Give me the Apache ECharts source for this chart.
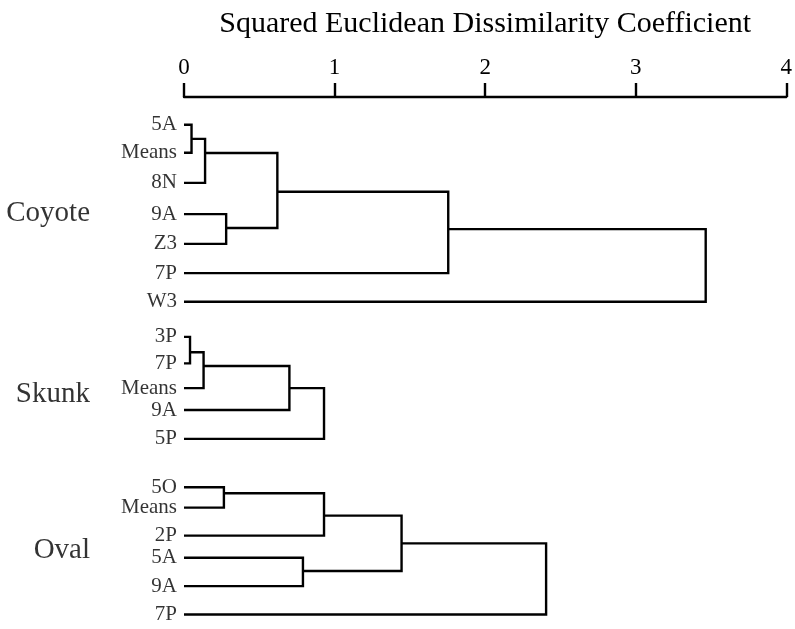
<!DOCTYPE html>
<html><head><meta charset="utf-8">
<script src="https://cdn.jsdelivr.net/npm/echarts@6/dist/echarts.min.js"></script>
<style>html,body{margin:0;padding:0;background:#fff}#c{width:795px;height:629px}</style>
</head><body><div id="c"></div>
<script>
// ---- data ----
const axisTitle = 'Squared Euclidean Dissimilarity Coefficient';
const axisTicks = [0, 1, 2, 3, 4];

const groupNames = ['Coyote', 'Skunk', 'Oval'];
const groupRows = [3.93, 10.07, 15.36];

// leaves (top to bottom) and their row positions
const coyoteLeaves = ['5A', 'Means', '8N', '9A', 'Z3', '7P', 'W3'];
const coyoteRows = [0.94, 1.89, 2.91, 3.97, 4.98, 5.97, 6.94];
// merges: [childA, childB, dissimilarity, connector row]; ids >= leaf count refer to earlier merges
const coyoteMerges = [[0, 1, 0.05, 1.42], [7, 2, 0.14, 1.90], [3, 4, 0.28, 4.44], [8, 9, 0.62, 3.21], [10, 5, 1.755, 4.48], [11, 6, 3.465, 5.71]];

const skunkLeaves = ['3P', '7P', 'Means', '9A', '5P'];
const skunkRows = [8.13, 9.03, 9.87, 10.61, 11.59];
const skunkMerges = [[0, 1, 0.04, 8.65], [5, 2, 0.13, 9.12], [6, 3, 0.70, 9.87], [7, 4, 0.93, 10.73]];

const ovalLeaves = ['5O', 'Means', '2P', '5A', '9A', '7P'];
const ovalRows = [13.23, 13.92, 14.87, 15.62, 16.58, 17.54];
const ovalMerges = [[0, 1, 0.265, 13.43], [6, 2, 0.93, 14.19], [3, 4, 0.79, 16.07], [7, 8, 1.445, 15.13], [9, 5, 2.405, 16.34]];

const groups = [
  { leaves: coyoteLeaves, rows: coyoteRows, merges: coyoteMerges },
  { leaves: skunkLeaves, rows: skunkRows, merges: skunkMerges },
  { leaves: ovalLeaves, rows: ovalRows, merges: ovalMerges }
];

// ---- build links ----
const links = [];
const leafLabels = [];
groups.forEach(g => {
  const n = g.leaves.length;
  const pos = id => id < n ? [0, g.rows[id]] : [g.merges[id - n][2], g.merges[id - n][3]];
  g.leaves.forEach((name, i) => leafLabels.push({ name: name, value: [0, g.rows[i]] }));
  g.merges.forEach(m => {
    const a = pos(m[0]), b = pos(m[1]), h = m[2];
    links.push({ coords: [[a[0], a[1]], [h, a[1]], [h, b[1]], [b[0], b[1]]] });
  });
});
const groupLabels = groupNames.map((name, i) => ({ name: name, value: [0, groupRows[i]] }));

const FONT = 'Liberation Serif';
const INK = '#000';
const chart = echarts.init(document.getElementById('c'), null, { renderer: 'canvas' });
chart.setOption({
  animation: false,
  backgroundColor: '#fff',
  grid: { left: 184, right: 7, top: 97, bottom: 1 },
  xAxis: {
    type: 'value', position: 'top', min: 0, max: 4, interval: 1,
    name: axisTitle, nameLocation: 'middle', nameGap: 58,
    nameTextStyle: { fontFamily: FONT, fontSize: 30, color: INK },
    axisLine: { show: true, lineStyle: { color: INK, width: 2.4 } },
    axisTick: { show: true, inside: false, length: 14, lineStyle: { color: INK, width: 2.4 } },
    axisLabel: { show: true, margin: 18, fontFamily: FONT, fontSize: 23, color: INK,
      formatter: v => axisTicks.includes(v) ? String(v) : '' },
    splitLine: { show: false }
  },
  yAxis: { type: 'value', inverse: true, min: 0, max: 18, show: false },
  series: [
    {
      type: 'lines', coordinateSystem: 'cartesian2d', polyline: true,
      lineStyle: { color: INK, width: 2.4, opacity: 1 },
      data: links, silent: true
    },
    {
      type: 'scatter', symbolSize: 0, clip: false, silent: true,
      label: { show: true, position: 'left', distance: 7, formatter: '{b}',
        fontFamily: FONT, fontSize: 21, color: INK },
      data: leafLabels
    },
    {
      type: 'scatter', symbolSize: 0, clip: false, silent: true,
      label: { show: true, position: 'left', distance: 94, formatter: '{b}',
        fontFamily: FONT, fontSize: 29, color: INK },
      data: groupLabels
    }
  ]
});
</script></body></html>
